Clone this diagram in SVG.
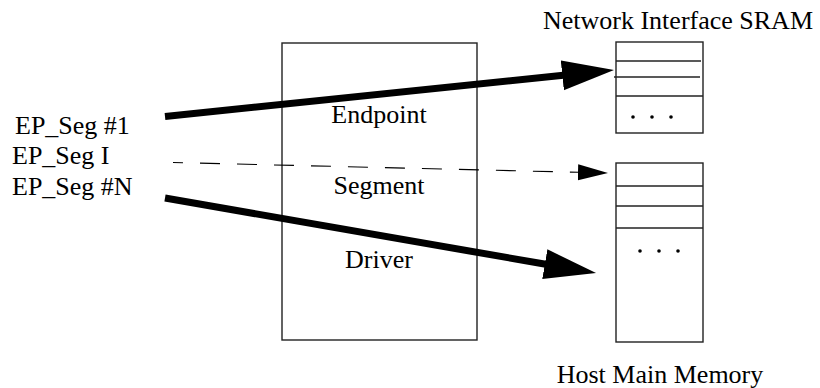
<svg xmlns="http://www.w3.org/2000/svg" width="820" height="388" viewBox="0 0 820 388">
  <style>
    .lbl { font-family: "Liberation Serif", "Times New Roman", serif; font-size: 26px; fill: #000; }
    .box { fill: #fff; stroke: #222; stroke-width: 1.4; }
    .div { stroke: #222; stroke-width: 1.4; }
    .dot { fill: #000; }
    .thick { fill: none; stroke: #000; stroke-width: 7; }
    .dash { fill: none; stroke: #000; stroke-width: 1.1; stroke-dasharray: 20 17; stroke-dashoffset: 10; }
  </style>
  <defs>
    <marker id="headBig" markerUnits="userSpaceOnUse" markerWidth="54" markerHeight="32" viewBox="0 0 54 32" refX="1" refY="16" orient="auto">
      <path d="M0,1 L52,16 L0,31 z" fill="#000"/>
    </marker>
    <marker id="headSmall" markerUnits="userSpaceOnUse" markerWidth="32" markerHeight="18" viewBox="0 0 32 18" refX="1" refY="9" orient="auto">
      <path d="M0,1 L30,9 L0,17 z" fill="#000"/>
    </marker>
  </defs>

  <rect width="820" height="388" fill="#fff"/>

  <!-- central software box -->
  <g id="driver">
    <rect class="box" x="282" y="43" width="195" height="297"/>
    <text class="lbl" x="379" y="123" text-anchor="middle">Endpoint</text>
    <text class="lbl" x="379" y="194" text-anchor="middle">Segment</text>
    <text class="lbl" x="379" y="268" text-anchor="middle">Driver</text>
  </g>

  <!-- endpoint segment labels -->
  <g id="segments">
    <text class="lbl" x="15" y="134">EP_Seg #1</text>
    <text class="lbl" x="12" y="164">EP_Seg I</text>
    <text class="lbl" x="12" y="195">EP_Seg #N</text>
  </g>

  <!-- NI SRAM -->
  <g id="sram">
    <text class="lbl" x="678" y="29" text-anchor="middle">Network Interface SRAM</text>
    <rect class="box" x="616" y="42" width="87" height="91"/>
    <line class="div" x1="616" y1="61" x2="701" y2="61"/>
    <line class="div" x1="614" y1="77" x2="700" y2="77"/>
    <line class="div" x1="616" y1="96" x2="703" y2="96"/>
    <circle class="dot" cx="633" cy="117" r="1.8"/>
    <circle class="dot" cx="652" cy="117" r="1.8"/>
    <circle class="dot" cx="671" cy="117" r="1.8"/>
  </g>

  <!-- host main memory -->
  <g id="host">
    <rect class="box" x="616" y="163" width="87" height="179"/>
    <line class="div" x1="616" y1="186" x2="703" y2="186"/>
    <line class="div" x1="616" y1="206" x2="703" y2="206"/>
    <line class="div" x1="616" y1="228" x2="703" y2="228"/>
    <circle class="dot" cx="640" cy="251" r="1.8"/>
    <circle class="dot" cx="659" cy="251" r="1.8"/>
    <circle class="dot" cx="678" cy="251" r="1.8"/>
    <text class="lbl" x="660" y="383" text-anchor="middle">Host Main Memory</text>
  </g>

  <!-- connectors -->
  <g id="connectors">
    <path class="thick" d="M165,116.5 L563.3,75.3" marker-end="url(#headBig)"/>
    <path class="dash" d="M173,162.5 L579,172.3" marker-end="url(#headSmall)"/>
    <path class="thick" d="M165,198 L545.8,264.3" marker-end="url(#headBig)"/>
  </g>
</svg>
